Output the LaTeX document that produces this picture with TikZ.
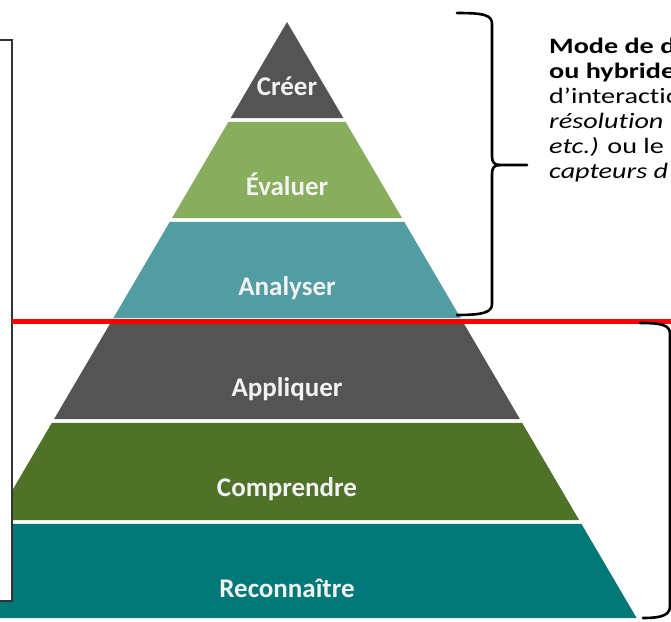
\documentclass[tikz,border=0pt]{standalone}
\usepackage{fontspec}
\setmainfont{Carlito}[Ligatures=NoCommon]
\definecolor{cdark}{HTML}{545454}
\definecolor{cgreenl}{HTML}{88AD5D}
\definecolor{cteall}{HTML}{529DA1}
\definecolor{cgreend}{HTML}{4F7128}
\definecolor{cteald}{HTML}{007878}
\definecolor{clabel}{HTML}{F2F2F2}
\newcommand\pyrlayer[3]{\fill[#3] ({287-(#1-22)*0.5866},#1) -- ({287+(#1-22)*0.5866},#1) -- ({287+(#2-22)*0.5866},#2) -- ({287-(#2-22)*0.5866},#2) -- cycle;}
\newcommand\wideText[1]{\scalebox{1.28}[1]{#1}}
\tikzset{
  lbl/.style={text=clabel, font=\fontsize{27}{30}\selectfont\bfseries, inner sep=0pt},
  rtext/.style={text=black, font=\fontsize{22}{25}\selectfont, inner sep=0pt, anchor=base west},
  brace/.style={draw=black, line width=2.6pt, line cap=round, line join=round}
}
\begin{document}
\begin{tikzpicture}[x=1pt,y=-1pt]
\useasboundingbox (0,0) rectangle (671,621);
\clip (0,0) rectangle (671,621);
\fill[white] (0,0) rectangle (671,621);
% pyramid layers
\pyrlayer{22}{118.2}{cdark}
\pyrlayer{121.8}{218.2}{cgreenl}
\pyrlayer{221.8}{318.2}{cteall}
\pyrlayer{321.8}{419.2}{cdark}
\pyrlayer{422.8}{520.2}{cgreend}
\pyrlayer{523.8}{618}{cteald}
% labels
\node[lbl, anchor=base] (creer) at (287,95) {Créer};
\node[lbl, anchor=base] (evaluer) at (287,195.5) {Évaluer};
\node[lbl, anchor=base] (analyser) at (287,295.5) {Analyser};
\node[lbl, anchor=base] (appliquer) at (287,396) {Appliquer};
\node[lbl, anchor=base] (comprendre) at (287,496.5) {Comprendre};
\node[lbl, anchor=base] (reconnaitre) at (287,597) {Reconnaître};
% left box
\draw[fill=white, draw=black!80, line width=1.3pt] (-10,40) rectangle (12,601);
% red line
\coordinate (redL) at (12,321);
\coordinate (redR) at (675,321);
\draw[red, line width=5pt] (redL) -- (redR);
% upper brace
\draw[brace] (457,13) .. controls (484,13) and (492,15) .. (492,24) -- (492,156)
  .. controls (492,162) and (494,165) .. (500,165) -- (527,165);
\draw[brace] (500,165) .. controls (494,165) and (492,168) .. (492,174) -- (492,304)
  .. controls (492,312) and (484,315) .. (457,315);
% lower brace
\draw[brace] (640,323) .. controls (662,323) and (670,325) .. (670,334) -- (670,606)
  .. controls (670,615) and (662,618) .. (643,618);
% right text
\node[rtext] (t1) at (549,53.5) {\wideText{\bfseries Mode de d}};
\node[rtext] (t2) at (549,78.5) {\wideText{\bfseries ou hybride}};
\node[rtext] (t3) at (549,103.5) {\wideText{d’interactio}};
\node[rtext] (t4) at (549,128.5) {\wideText{\itshape résolution}};
\node[rtext] (t5) at (549,153.5) {\wideText{\textit{etc.)} ou le}};
\node[rtext] (t6) at (549,178.5) {\wideText{\itshape capteurs d}};
\end{tikzpicture}
\end{document}
